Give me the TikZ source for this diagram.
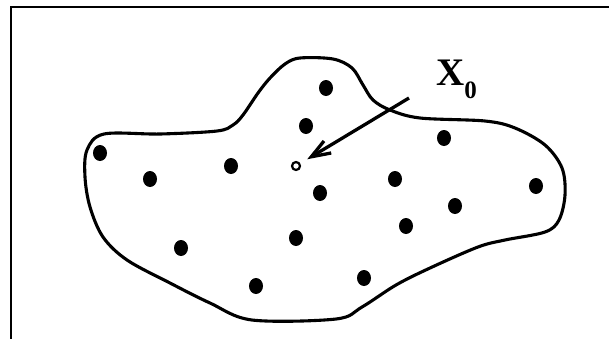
\documentclass[tikz,border=0pt]{standalone}
\usepackage{fontspec}
\setmainfont{Liberation Serif}
\usetikzlibrary{arrows.meta}

\begin{document}
\begin{tikzpicture}[x=1pt,y=-1pt,
    region/.style={line width=3.1pt,line join=round},
    sample/.style={fill=black},
    pointer/.style={line width=3.3pt,-{Straight Barb[length=19pt,width=14pt,line width=3.3pt]},shorten >=8pt}]
  \useasboundingbox (0,0) rectangle (609,338);
  % marco
  \draw[line width=2.8pt] (11,345) -- (11,7) -- (615,7);
  % region factible
  \draw[region] plot[smooth cycle,tension=0.55] coordinates {
    (104,134) (160,134) (217,131) (233,125) (243,115) (258,93) (270,78) (285,64)
    (300,58) (333,59) (352,68) (363,85) (373,100) (390,110) (420,118) (485,121)
    (515,128) (545,145) (562,168) (565,195) (559,220) (545,232) (505,240) (478,247)
    (430,268) (396,285) (362,307) (336,319) (252,320) (210,303) (170,283) (127,260)
    (103,237) (90,207) (85,177) (87,150)};
  % puntos
  \foreach \x/\y in {326/88, 306/126, 444/138, 100/153, 150/179, 231/166, 320/193,
                     395/179, 536/186, 455/206, 406/226, 296/238, 181/248, 256/286, 364/278}
    \fill[sample] (\x,\y) ellipse [x radius=7pt, y radius=8pt];
  % punto inicial
  \node[circle,draw,line width=2.2pt,minimum size=8pt,inner sep=0pt] (x0) at (296,166) {};
  \node[anchor=base west,inner sep=0pt,font=\fontsize{39}{39}\selectfont\bfseries] (lbl) at (436,85)
    {X\raisebox{-13pt}{\fontsize{25}{25}\selectfont 0}};
  \coordinate (tail) at (409,98);
  \draw[pointer] (tail) -- (x0);
\end{tikzpicture}
\end{document}
